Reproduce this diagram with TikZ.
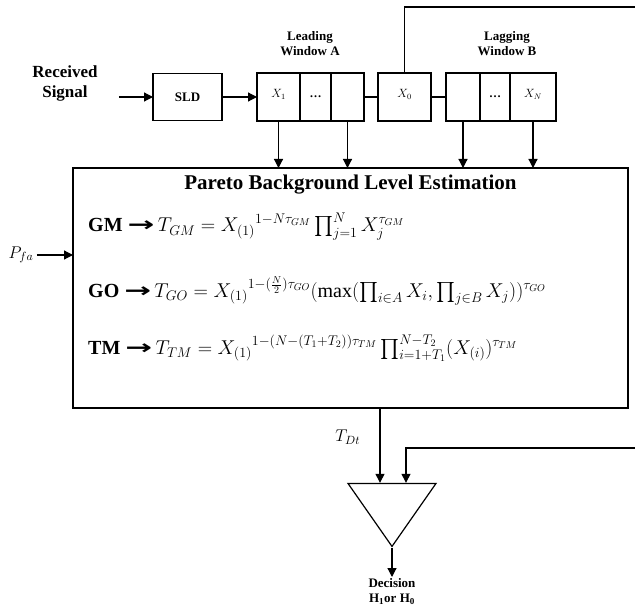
\documentclass[tikz,border=0pt]{standalone}
\usepackage{fix-cm}
\usepackage{amsmath,amssymb}
\usepackage{fontspec}
\setmainfont{Liberation Serif}
\newfontfamily\arrowfont{DejaVu Sans}
\usepackage{tikz}
\usetikzlibrary{positioning,arrows.meta,shapes.geometric,calc}

\newcommand\celltop[1]{\raisebox{7pt}{$#1$}}
\newcommand\boldarrow{{\arrowfont\bfseries\scalebox{1.6}[1]{→}}}

\begin{document}
\begin{tikzpicture}[
    x=1pt, y=-1pt,
    node distance=14pt,
    box/.style={draw, line width=1.2pt, inner sep=0pt, outer sep=0pt, font=\bfseries\fontsize{13}{15}\selectfont},
    cell/.style={box, minimum height=48pt, font=\fontsize{12}{14}\selectfont},
    arr/.style={-{Triangle[length=9pt,width=9pt]}, line width=1.2pt},
    wire/.style={line width=1.2pt},
    lbl/.style={align=center, inner sep=1pt, font=\bfseries\fontsize{13}{15}\selectfont},
    eqn/.style={anchor=base west, inner sep=0pt, font=\fontsize{20}{24}\selectfont},
]
\useasboundingbox (0,0) rectangle (635,607);

% Input and square-law detector
\node[lbl, font=\bfseries\fontsize{17}{20}\selectfont] (rx) at (65,83) {Received\\Signal};
\node[box, minimum width=69pt, minimum height=47pt] (sld) at (187.5,97) {SLD};

% Leading window A
\node[cell, minimum width=43pt] (xa1) at (278.5,97) {\celltop{X_1}};
\node[cell, minimum width=31pt, right=0pt of xa1] (xad) {\bfseries\dots};
\node[cell, minimum width=33pt, right=0pt of xad] (xa2) {};
\node[lbl] (leadA) at (310,44) {Leading\\Window A};

% Cell under test
\node[cell, minimum width=53pt, right=14pt of xa2] (x0) {\celltop{X_0}};

% Lagging window B
\node[cell, minimum width=34pt, right=15pt of x0] (xb1) {};
\node[cell, minimum width=30pt, right=0pt of xb1] (xbd) {\bfseries\dots};
\node[cell, minimum width=46pt, right=0pt of xbd] (xbn) {\celltop{X_N}};
\node[lbl] (lagB) at (507,44) {Lagging\\Window B};

% Estimator block
\node[box, minimum width=555pt, minimum height=240pt] (pbe) at (350.5,288) {};
\node[font=\bfseries\fontsize{21}{24}\selectfont, below=3pt of pbe.north] (title) {Pareto Background Level Estimation};
\node[eqn] (gm) at (88,232) {\textbf{GM} \boldarrow$\,T_{GM} = {X_{(1)}}^{1-N\tau_{GM}}\prod_{j=1}^{N} X_j^{\tau_{GM}}$};
\node[eqn] (go) at (88,297) {\textbf{GO} \boldarrow$\,T_{GO} = {X_{(1)}}^{1-(\frac{N}{2})\tau_{GO}}(\max(\prod_{i\in A} X_i, \prod_{j\in B} X_j))^{\tau_{GO}}$};
\node[eqn] (tm) at (88,354) {\textbf{TM} \boldarrow$\,T_{TM} = {X_{(1)}}^{1-(N-(T_1+T_2))\tau_{TM}}\prod_{i=1+T_1}^{N-T_2}(X_{(i)})^{\tau_{TM}}$};
\node[font=\fontsize{17}{20}\selectfont] (pfa) at (21,255) {$P_{fa}$};

% Comparator and decision
\node[draw, line width=1.2pt, isosceles triangle, isosceles triangle stretches, shape border rotate=270,
      minimum width=88pt, minimum height=63pt, inner sep=0pt, anchor=apex] (cmp) at (392,548) {};
\node[lbl, below=29pt of cmp.apex] (dec) {Decision\\H\textsubscript{1}or H\textsubscript{0}};
\coordinate (in1) at ([xshift=-12pt]cmp.north);
\coordinate (in2) at ([xshift=14pt]cmp.north);
\coordinate (fb) at (635,7);
\coordinate (thr) at (635,448);

% Signal path
\draw[arr] ([xshift=20pt]rx.east |- sld) -- (sld);
\draw[arr] (sld) -- (xa1);
\draw[wire] (xa2) -- (x0);
\draw[wire] (x0) -- (xb1);
\draw[wire] (x0.north) |- (fb);
\foreach \c in {xa1,xa2,xb1,xbn}
    \draw[arr] (\c.south) -- (\c.south |- pbe.north);
\draw[arr] (pfa) -- (pfa -| pbe.west);

% Threshold test
\draw[arr] (in1 |- pbe.south) -- node[pos=0.39, left=16pt, font=\fontsize{17}{20}\selectfont] {$T_{Dt}$} (in1);
\draw[arr] (thr) -| (in2);
\draw[arr] (cmp.apex) -- (dec);

\end{tikzpicture}
\end{document}
